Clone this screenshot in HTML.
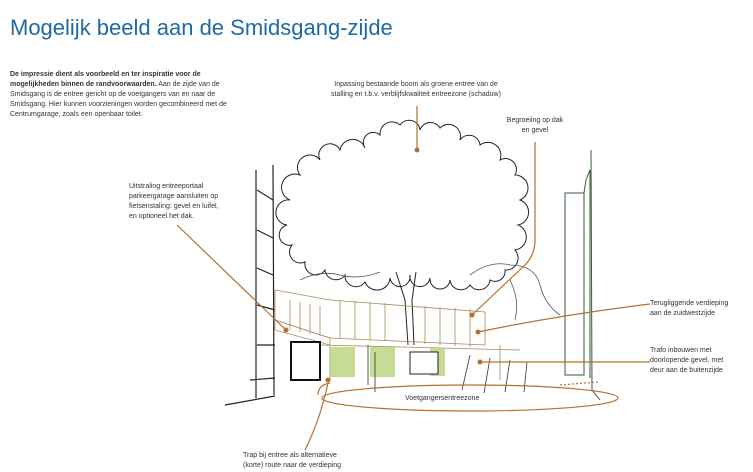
<!DOCTYPE html>
<html><head><meta charset="utf-8"><style>
body{margin:0;background:#fff;width:753px;height:472px;overflow:hidden;font-family:"Liberation Sans",sans-serif}
svg{position:absolute;left:0;top:0}
.t{font-size:7px;fill:#333}
</style></head><body>
<svg width="753" height="472" viewBox="0 0 753 472">
<text x="10" y="35" font-size="22" fill="#1f6aa3" font-family="Liberation Sans,sans-serif">Mogelijk beeld aan de Smidsgang-zijde</text>
<g class="t">
<text x="10" y="76" font-weight="bold">De impressie dient als voorbeeld en ter inspiratie voor de</text>
<text x="10" y="86"><tspan font-weight="bold">mogelijkheden binnen de randvoorwaarden.</tspan> Aan de zijde van de</text>
<text x="10" y="96">Smidsgang is de entree gericht op de voetgangers van en naar de</text>
<text x="10" y="106">Smidsgang. Hier kunnen voorzieningen worden gecombineerd met de</text>
<text x="10" y="116">Centrumgarage, zoals een openbaar toilet.</text>
<text x="416" y="86" text-anchor="middle">Inpassing bestaande boom als groene entree van de</text>
<text x="416" y="96" text-anchor="middle">stalling en t.b.v. verblijfskwaliteit entreezone (schaduw)</text>
<text x="535" y="122" text-anchor="middle">Begroeiing op dak</text>
<text x="535" y="132" text-anchor="middle">en gevel</text>
<text x="129" y="188">Uitstraling entreeportaal</text>
<text x="129" y="198">parkeergarage aansluiten op</text>
<text x="129" y="208">fietsenstaling: gevel en luifel,</text>
<text x="129" y="218">en optioneel het dak.</text>
<text x="650" y="305">Terugliggende verdieping</text>
<text x="650" y="315">aan de zuidwestzijde</text>
<text x="650" y="352">Trafo inbouwen met</text>
<text x="650" y="362">doorlopende gevel, met</text>
<text x="650" y="372">deur aan de buitenzijde</text>
<text x="243" y="457">Trap bij entree als alternatieve</text>
<text x="243" y="467">(korte) route naar de verdieping</text>
<text x="405" y="400">Voetgangersentreezone</text>
</g>
<!-- tree canopy -->
<path fill="none" stroke="#222" stroke-width="1" d="M290,200 A9,9 0 0 1 300,175 A12,12 0 0 1 320,160 A11,11 0 0 1 340,150 A13,13 0 0 1 365,148 A10,10 0 0 1 380,135 A12,12 0 0 1 400,125 A11,11 0 0 1 420,130 A11,11 0 0 1 440,128 A12,12 0 0 1 460,140 A11,11 0 0 1 480,145 A13,13 0 0 1 500,160 A11,11 0 0 1 515,175 A13,13 0 0 1 520,200 A13,13 0 0 1 518,225 A13,13 0 0 1 515,250 A12,12 0 0 1 505,270 A10,10 0 0 1 490,280 A11,11 0 0 1 470,285 A11,11 0 0 1 450,280 A10,10 0 0 1 430,278 A10,10 0 0 1 410,275 A10,10 0 0 1 390,278 A13,13 0 0 1 365,282 A11,11 0 0 1 345,275 A11,11 0 0 1 325,270 A11,11 0 0 1 305,262 A11,11 0 0 1 292,245 A10,10 0 0 1 287,225 A12,12 0 0 1 290,200Z"/>
<!-- trunk -->
<path d="M396,272 L405,300 L408,345 M416,272 L412,300 L414,345" stroke="#222" fill="none"/>
<!-- background trees -->
<path d="M300,280 q20,-10 40,-5 q20,5 40,-3 M470,275 q20,-15 40,-10 q25,0 30,20 q5,20 20,30 M510,280 q10,20 5,40" stroke="#555" fill="none" stroke-width="0.8"/>
<!-- left building -->
<g stroke="#222" fill="none" stroke-width="1.2">
<path d="M256,170 L256,398 M273,165 L274,395 M257,190 L273,200 M257,230 L273,238 M257,268 L273,275 M257,305 L275,310 M257,345 L275,345 M250,380 L275,378 M225,405 L275,396"/>
</g>
<!-- building volume -->
<g stroke="#a98a5c" fill="none" stroke-width="0.8">
<path d="M275,290 L330,300 L485,312 L485,345 L330,338 L275,320Z"/>
<path d="M275,320 L330,338 L330,345 L275,330Z"/>
<path d="M290,300 v30 M300,302 v30 M310,304 v30 M320,306 v30 M340,300 v38 M355,301 v38 M370,302 v38 M385,303 v38 M425,306 v38 M440,307 v38 M455,308 v38 M470,309 v38 M330,345 v35 M500,345 v35 M320,345 L520,350"/>
</g>
<g fill="#b9d47a" opacity="0.8">
<rect x="330" y="347" width="25" height="30"/><rect x="370" y="347" width="25" height="30"/><rect x="430" y="348" width="15" height="28"/>
</g>
<rect x="291" y="342" width="29" height="38" fill="#fff" stroke="#111" stroke-width="2"/>
<rect x="410" y="352" width="28" height="22" fill="#fff" stroke="#222"/>
<!-- people -->
<g stroke="#333" fill="none" stroke-width="0.8">
<path d="M368,345 l0,40 M375,352 l0,40 M470,355 l-8,35 M490,358 l-6,35 M510,360 l-5,32 M527,362 l-3,30"/>
</g>
<!-- right building -->
<g stroke="#3a5a3a" fill="none" stroke-width="1">
<path d="M565,193 L565,375 L584,375 L584,193Z M584,193 L586,180 L590,170 L590,378 M591,150 L592,390 L600,400"/>
</g>
<!-- leaders -->
<g stroke="#b5702f" fill="none" stroke-width="1.2">
<path d="M417,106 V150"/>
<path d="M535,142 V240 Q535,255 525,265 L472,315"/>
<path d="M177,225 L286,330"/>
<path d="M650,304 Q560,315 478,332"/>
<path d="M650,362 H480"/>
<ellipse cx="470" cy="398" rx="148" ry="13"/>
<path d="M305,450 Q320,420 328,383"/>
<path d="M560,385 L598,382" stroke-dasharray="2,2"/>
<path d="M318,395 q0,-10 12,-12"/>
</g>
<g fill="#b5702f">
<circle cx="417" cy="150" r="2.5"/><circle cx="472" cy="315" r="2.5"/><circle cx="286" cy="330" r="2.5"/>
<circle cx="478" cy="332" r="2.5"/><circle cx="480" cy="362" r="2.5"/><circle cx="328" cy="380" r="2.5"/>
</g>
</svg>
</body></html>
